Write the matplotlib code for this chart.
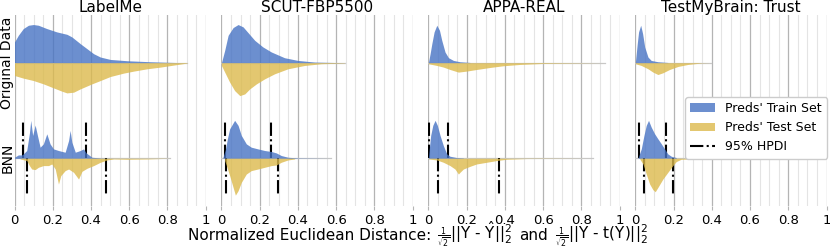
import numpy as np
import matplotlib.pyplot as plt
from matplotlib.patches import Patch
from matplotlib.lines import Line2D
from matplotlib.ticker import MultipleLocator
from matplotlib.offsetbox import TextArea, HPacker, AnchoredOffsetbox

plt.rcParams['font.family'] = ['DejaVu Sans']
plt.rcParams['mathtext.fontset'] = 'dejavusans'

datasets = ["LabelMe", "SCUT-FBP5500", "APPA-REAL", "TestMyBrain: Trust"]
row_labels = ["Original Data", "BNN"]
x_ticks = [0, 0.2, 0.4, 0.6, 0.8, 1.0]
x_ticklabels = ["0", "0.2", "0.4", "0.6", "0.8", "1"]

# ---------------- Original data: densities (x, height) ----------------
labelme_orig_train_x = [0.0, 0.020, 0.046, 0.073, 0.099, 0.125, 0.169, 0.221, 0.274, 0.300, 0.344, 0.379, 0.414, 0.449, 0.501, 0.589, 0.711, 0.886]
labelme_orig_train_y = [20.7, 27.3, 34.0, 37.3, 38.0, 37.3, 34.0, 30.7, 28.3, 25.7, 19.0, 14.0, 9.0, 5.7, 3.3, 2.0, 1.0, 0.0]
labelme_orig_test_x = [0.0, 0.046, 0.099, 0.151, 0.204, 0.248, 0.274, 0.309, 0.344, 0.405, 0.449, 0.501, 0.571, 0.624, 0.694, 0.764, 0.834, 0.904]
labelme_orig_test_y = [12.7, 15.3, 17.7, 21.0, 25.0, 28.3, 30.0, 29.3, 26.0, 21.0, 17.7, 13.7, 10.3, 8.3, 6.0, 4.3, 2.3, 0.3]

scut_orig_train_x = [0.0, 0.017, 0.035, 0.061, 0.087, 0.113, 0.139, 0.174, 0.217, 0.261, 0.330, 0.400, 0.487, 0.644]
scut_orig_train_y = [0.0, 12.3, 27.3, 35.0, 38.0, 35.7, 30.0, 22.3, 15.7, 10.7, 5.0, 2.3, 0.7, 0.0]
scut_orig_test_x = [0.0, 0.017, 0.043, 0.069, 0.096, 0.122, 0.148, 0.183, 0.226, 0.278, 0.348, 0.435, 0.522, 0.644]
scut_orig_test_y = [2.7, 9.3, 19.3, 27.7, 32.7, 31.0, 26.0, 21.0, 16.0, 11.0, 6.0, 2.7, 1.0, 0.3]

appa_orig_train_x = [0.0, 0.009, 0.018, 0.030, 0.044, 0.058, 0.070, 0.087, 0.105, 0.131, 0.165, 0.218]
appa_orig_train_y = [0.0, 9.0, 19.0, 30.7, 37.3, 32.3, 22.3, 10.7, 5.0, 2.3, 1.0, 0.3]
appa_orig_test_x = [0.0, 0.044, 0.078, 0.113, 0.157, 0.200, 0.252, 0.322, 0.392, 0.479, 0.600, 0.774, 0.922]
appa_orig_test_y = [1.0, 2.7, 4.3, 6.7, 9.3, 8.3, 6.7, 4.7, 3.0, 1.7, 0.7, 0.3, 0.0]

tmb_orig_train_x = [0.0, 0.010, 0.017, 0.028, 0.038, 0.049, 0.066, 0.083, 0.118, 0.170]
tmb_orig_train_y = [0.0, 19.0, 30.7, 37.3, 29.0, 15.7, 5.7, 2.3, 1.0, 0.3]
tmb_orig_test_x = [0.0, 0.031, 0.066, 0.092, 0.118, 0.144, 0.179, 0.223, 0.275, 0.344, 0.397]
tmb_orig_test_y = [1.0, 2.7, 6.0, 9.3, 11.7, 10.0, 6.7, 3.7, 1.7, 0.3, 0.0]

# ---------------- BNN: densities (x, height) ----------------
labelme_bnn_train_x = [0.0, 0.020, 0.038, 0.046, 0.064, 0.078, 0.085, 0.095, 0.108, 0.120, 0.134, 0.151, 0.169, 0.186, 0.204, 0.230, 0.265, 0.283, 0.291, 0.300, 0.318, 0.344, 0.361, 0.375, 0.405, 0.449, 0.519]
labelme_bnn_train_y = [1.0, 3.3, 3.3, 4.3, 7.7, 25.0, 37.7, 22.7, 33.0, 22.7, 11.0, 14.3, 24.3, 14.3, 9.3, 7.7, 6.0, 17.7, 27.7, 16.0, 6.0, 7.7, 9.3, 5.3, 1.0, 0.3, 0.0]
labelme_bnn_test_x = [0.029, 0.064, 0.078, 0.090, 0.108, 0.125, 0.151, 0.178, 0.195, 0.213, 0.230, 0.242, 0.265, 0.283, 0.309, 0.335, 0.353, 0.379, 0.414, 0.449, 0.484, 0.519, 0.589, 0.694, 0.816]
labelme_bnn_test_y = [0.7, 2.3, 7.3, 10.7, 11.3, 9.0, 7.3, 7.3, 5.7, 10.7, 25.7, 17.3, 12.3, 10.7, 14.0, 20.7, 13.0, 10.0, 7.3, 4.0, 1.7, 0.7, 1.0, 0.7, 0.0]
labelme_hpdi_train = [0.046, 0.375]
labelme_hpdi_test = [0.064, 0.479]

scut_bnn_train_x = [0.008, 0.021, 0.031, 0.043, 0.069, 0.087, 0.104, 0.130, 0.156, 0.191, 0.226, 0.261, 0.287, 0.313, 0.348, 0.400, 0.574]
scut_bnn_train_y = [1.0, 9.0, 19.3, 29.3, 37.7, 32.7, 22.7, 14.3, 11.0, 9.3, 7.7, 6.7, 5.3, 2.7, 1.0, 0.3, 0.0]
scut_bnn_test_x = [0.017, 0.026, 0.043, 0.061, 0.073, 0.087, 0.104, 0.130, 0.156, 0.191, 0.226, 0.261, 0.287, 0.313, 0.348, 0.383]
scut_bnn_test_y = [2.3, 7.3, 17.3, 29.0, 36.7, 32.3, 24.0, 15.7, 12.3, 10.7, 9.0, 7.3, 6.7, 4.0, 1.7, 0.7]
scut_hpdi_train = [0.017, 0.261]
scut_hpdi_test = [0.026, 0.296]

appa_bnn_train_x = [0.0, 0.012, 0.023, 0.035, 0.047, 0.061, 0.078, 0.096, 0.113, 0.148, 0.183]
appa_bnn_train_y = [1.0, 22.7, 32.7, 37.7, 32.7, 22.7, 12.7, 4.3, 2.0, 0.7, 0.3]
appa_bnn_test_x = [0.0, 0.044, 0.078, 0.113, 0.139, 0.157, 0.165, 0.183, 0.218, 0.252, 0.305, 0.357, 0.409, 0.513, 0.861]
appa_bnn_test_y = [0.7, 1.7, 4.0, 7.3, 10.7, 15.7, 14.0, 10.7, 8.0, 5.7, 4.0, 2.3, 1.0, 0.3, 0.0]
appa_hpdi_train = [0.002, 0.105]
appa_hpdi_test = [0.049, 0.369]

tmb_bnn_train_x = [0.014, 0.031, 0.045, 0.057, 0.069, 0.083, 0.101, 0.118, 0.136, 0.153, 0.170, 0.188, 0.214]
tmb_bnn_train_y = [0.3, 9.3, 22.7, 32.7, 37.7, 31.0, 24.3, 19.3, 14.3, 9.3, 4.3, 2.0, 0.7]
tmb_bnn_test_x = [0.023, 0.040, 0.057, 0.075, 0.092, 0.104, 0.118, 0.144, 0.170, 0.196, 0.214, 0.240, 0.449]
tmb_bnn_test_y = [0.7, 5.7, 15.7, 25.7, 31.3, 33.3, 29.0, 20.7, 14.0, 7.3, 3.3, 1.0, 0.0]
tmb_hpdi_train = [0.017, 0.162]
tmb_hpdi_test = [0.045, 0.196]

orig_panels = [
    (labelme_orig_train_x, labelme_orig_train_y, labelme_orig_test_x, labelme_orig_test_y),
    (scut_orig_train_x, scut_orig_train_y, scut_orig_test_x, scut_orig_test_y),
    (appa_orig_train_x, appa_orig_train_y, appa_orig_test_x, appa_orig_test_y),
    (tmb_orig_train_x, tmb_orig_train_y, tmb_orig_test_x, tmb_orig_test_y),
]
bnn_panels = [
    (labelme_bnn_train_x, labelme_bnn_train_y, labelme_bnn_test_x, labelme_bnn_test_y, labelme_hpdi_train, labelme_hpdi_test),
    (scut_bnn_train_x, scut_bnn_train_y, scut_bnn_test_x, scut_bnn_test_y, scut_hpdi_train, scut_hpdi_test),
    (appa_bnn_train_x, appa_bnn_train_y, appa_bnn_test_x, appa_bnn_test_y, appa_hpdi_train, appa_hpdi_test),
    (tmb_bnn_train_x, tmb_bnn_train_y, tmb_bnn_test_x, tmb_bnn_test_y, tmb_hpdi_train, tmb_hpdi_test),
]

BLUE = '#4773c4'
YELLOW = '#dcba4c'
ALPHA = 0.8
HALF = 47.5
HPDI_LEN = 37.5

fig = plt.figure(figsize=(8.3, 2.5), dpi=100)
axes = fig.subplots(2, 4, sharex=True, gridspec_kw=dict(
    left=0.01747, right=0.9958, top=0.94, bottom=0.176, wspace=0.0825, hspace=0.0))


def style_axis(ax, show_labels):
    ax.set_xlim(0, 1)
    ax.set_ylim(-HALF, HALF)
    for s in ax.spines.values():
        s.set_visible(False)
    ax.set_yticks([])
    ax.xaxis.set_major_locator(MultipleLocator(0.2))
    ax.xaxis.set_minor_locator(MultipleLocator(0.05))
    ax.grid(which='major', axis='x', color='#b4b4b4', lw=0.9, zorder=0)
    ax.grid(which='minor', axis='x', color='#e4e4e4', lw=0.8, zorder=0)
    ax.set_axisbelow(True)
    ax.tick_params(axis='x', which='major', length=3, color='#b4b4b4', labelsize=9.5, pad=3.0)
    ax.tick_params(axis='x', which='minor', length=0)
    if show_labels:
        ax.set_xticks(x_ticks)
        ax.set_xticklabels(x_ticklabels)
    else:
        ax.tick_params(axis='x', which='major', length=0, labelbottom=False)


def draw_split(ax, tx, ty, vx, vy):
    xmax = max(max(tx), max(vx))
    ax.plot([0, xmax], [0, 0], color='#c8c8c8', lw=0.9, zorder=1)
    ax.fill_between(tx, 0, ty, color=BLUE, alpha=ALPHA, lw=0, zorder=2)
    ax.fill_between(vx, -np.asarray(vy), 0, color=YELLOW, alpha=ALPHA, lw=0, zorder=2)


for j in range(4):
    ax = axes[0, j]
    style_axis(ax, False)
    tx, ty, vx, vy = orig_panels[j]
    draw_split(ax, tx, ty, vx, vy)
    ax.set_title(datasets[j], fontsize=11, pad=2)

    ax = axes[1, j]
    style_axis(ax, True)
    tx, ty, vx, vy, htr, hte = bnn_panels[j]
    for xv in htr:
        ax.plot([xv, xv], [0, HPDI_LEN], color='black', ls='-.', lw=1.5, zorder=1.5)
    for xv in hte:
        ax.plot([xv, xv], [0, -HPDI_LEN], color='black', ls='-.', lw=1.5, zorder=1.5)
    draw_split(ax, tx, ty, vx, vy)

fig.text(7.5 / 830, 1 - 62.5 / 250, row_labels[0], rotation=90, ha='center', va='center', fontsize=10)
fig.text(7.5 / 830, 1 - 158 / 250, row_labels[1], rotation=90, ha='center', va='center', fontsize=10)

# x label composed of pieces (small inline fractions)
BIG = 11
SMALL = 8
pieces = [
    ("Normalized Euclidean Distance:", BIG),
    (r"$\frac{1}{\sqrt{2}}$", SMALL),
    (r"||Y - $\hat{\mathrm{Y}}$||$_2^2$", BIG),
    ("and", BIG),
    (r"$\frac{1}{\sqrt{2}}$", SMALL),
    (r"||Y - t(Y)||$_2^2$", BIG),
]
seps = [4, 0, 5, 5, 0]
areas = [TextArea(t, textprops=dict(fontsize=s)) for t, s in pieces]
box = areas[0]
for a, s in zip(areas[1:], seps):
    box = HPacker(children=[box, a], align='baseline', pad=0, sep=s)
anch = AnchoredOffsetbox(loc='center', child=box, pad=0, borderpad=0, frameon=False,
                         bbox_to_anchor=(418 / 830, 1 - 235.5 / 250),
                         bbox_transform=fig.transFigure)
fig.add_artist(anch)

handles = [Patch(facecolor=BLUE, alpha=ALPHA, lw=0, label="Preds' Train Set"),
           Patch(facecolor=YELLOW, alpha=ALPHA, lw=0, label="Preds' Test Set"),
           Line2D([0], [0], color='black', ls='-.', lw=1.5, label="95% HPDI")]
fig.legend(handles=handles, loc='upper right', bbox_to_anchor=(827 / 830, 1 - 97 / 250),
           fontsize=9, framealpha=1, edgecolor='#cccccc', borderaxespad=0)

fig.savefig('out.png', dpi=100)
